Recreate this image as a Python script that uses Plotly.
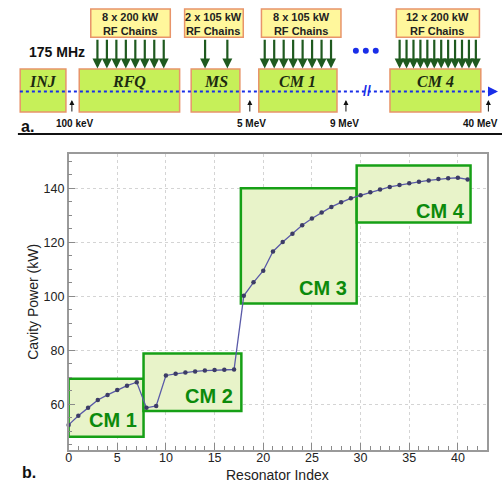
import numpy as np
import plotly.graph_objects as go

W, H = 502, 483

# ---------------- data ----------------
resonator_index = list(range(42))
cavity_power = [52.4, 55.8, 58.7, 61.6, 63.5, 65.3, 66.9, 68.2, 58.7, 59.4,
                70.7, 71.3, 71.8, 72.2, 72.5, 72.7, 72.8, 72.9, 100.2, 105.2,
                109.5, 116.6, 120.1, 123.2, 126.3, 128.8, 131.0, 133.1, 134.8, 136.3,
                137.4, 138.5, 139.6, 140.5, 141.2, 141.9, 142.4, 142.9, 143.4, 143.7,
                143.9, 143.3]

cm_names = ["CM 1", "CM 2", "CM 3", "CM 4"]
cm_x0 = [0.0, 7.7, 17.7, 29.6]
cm_x1 = [7.7, 17.75, 29.6, 41.3]
cm_y0 = [48.0, 57.5, 97.3, 127.3]
cm_y1 = [69.5, 78.8, 140.0, 148.4]
cm_label_x = [4.6, 14.4, 26.1, 38.2]
cm_label_y = [54.2, 63.2, 103.1, 131.7]

blocks = ["INJ", "RFQ", "MS", "CM 1", "CM 4"]
chain_counts = [0, 8, 2, 8, 12]
chain_labels = ["", "8 x 200 kW", "2 x 105 kW", "8 x 105 kW", "12 x 200 kW"]
energy_labels = ["100 keV", "5 MeV", "9 MeV", "40 MeV"]
frequency_label = "175 MHz"

# ---------------- layout positions (pixels) for the schematic ----------------
block_x0 = [17.3, 76.7, 189.3, 257.3, 389.3]
block_x1 = [63.3, 177.7, 238.3, 336.0, 480.7]
block_top, block_bot = 69.0, 112.0
chain_x0 = [None, 88.3, 182.7, 260.0, 395.7]
chain_x1 = [None, 168.3, 241.7, 340.0, 479.3]
arrow_first = [None, 95.0, 203.3, 263.3, 399.0]
arrow_last = [None, 161.7, 225.7, 330.0, 475.7]
chain_top, chain_bot = 9.0, 37.3
energy_arrow_x = [69.3, 248.3, 345.0, 488.3]
energy_label_x = [72.0, 249.5, 343.5, 480.0]
beam_y = 91.5


def X(p):
    return p / W


def Y(p):
    return 1 - p / H


shapes = []
annotations = []

BLOCK_FILL = "#c6f059"
BLOCK_LINE = "#e8946a"
CHAIN_FILL = "#fff79c"
ARROW_GREEN = "#1f5a1f"
BLUE = "#1a2ee8"

# blocks
for i, name in enumerate(blocks):
    shapes.append(dict(type="rect", xref="paper", yref="paper",
                       x0=X(block_x0[i]), x1=X(block_x1[i]),
                       y0=Y(block_bot), y1=Y(block_top),
                       fillcolor=BLOCK_FILL, line=dict(color=BLOCK_LINE, width=1.5)))
    annotations.append(dict(xref="paper", yref="paper",
                            x=X((block_x0[i] + block_x1[i]) / 2), y=Y(81.5),
                            text="<b><i>%s</i></b>" % name, showarrow=False,
                            font=dict(family="Liberation Serif, DejaVu Serif, serif",
                                      size=16, color="#1c2a10"),
                            xanchor="center", yanchor="middle"))
    if chain_counts[i] > 0:
        shapes.append(dict(type="rect", xref="paper", yref="paper",
                           x0=X(chain_x0[i]), x1=X(chain_x1[i]),
                           y0=Y(chain_bot), y1=Y(chain_top),
                           fillcolor=CHAIN_FILL, line=dict(color=BLOCK_LINE, width=1.5)))
        annotations.append(dict(xref="paper", yref="paper",
                                x=X((chain_x0[i] + chain_x1[i]) / 2), y=Y(24),
                                text="<b>" + chain_labels[i] + "<br>RF Chains</b>", showarrow=False,
                                font=dict(family="Arial, Liberation Sans", size=11, color="#222"),
                                xanchor="center", yanchor="middle"))
        for ax_px in np.linspace(arrow_first[i], arrow_last[i], chain_counts[i]):
            annotations.append(dict(xref="paper", yref="paper",
                                    x=X(ax_px), y=Y(block_top - 0.5),
                                    ax=0, ay=-(block_top - 0.5 - chain_bot - 1),
                                    text="", showarrow=True, arrowhead=2, arrowsize=0.9,
                                    arrowwidth=2.2, arrowcolor=ARROW_GREEN, standoff=0))

# beam line (dotted) drawn over blocks
shapes.append(dict(type="line", xref="paper", yref="paper",
                   x0=X(17.0), x1=X(492.0), y0=Y(beam_y), y1=Y(beam_y),
                   line=dict(color=BLUE, width=2.2, dash="dot")))
annotations.append(dict(xref="paper", yref="paper", x=X(498.0), y=Y(beam_y),
                        ax=-8, ay=0, text="", showarrow=True, arrowhead=2,
                        arrowsize=1.0, arrowwidth=2, arrowcolor=BLUE, standoff=0))
# break symbol
annotations.append(dict(xref="paper", yref="paper", x=X(366.0), y=Y(beam_y),
                        text="<b>//</b>", showarrow=False,
                        font=dict(family="Arial, Liberation Sans", size=14, color=BLUE),
                        xanchor="center", yanchor="middle"))
# three dots
for cx in [355.0, 365.0, 375.0]:
    shapes.append(dict(type="circle", xref="paper", yref="paper",
                       x0=X(cx - 3), x1=X(cx + 3), y0=Y(50.7 + 3), y1=Y(50.7 - 3),
                       fillcolor=BLUE, line=dict(width=0)))

# 175 MHz
annotations.append(dict(xref="paper", yref="paper", x=X(54.0), y=Y(51.7),
                        text="<b>%s</b>" % frequency_label, showarrow=False,
                        font=dict(family="Arial, Liberation Sans", size=14, color="#111"),
                        xanchor="center", yanchor="middle"))

# energy markers
for i, lab in enumerate(energy_labels):
    annotations.append(dict(xref="paper", yref="paper", x=X(energy_arrow_x[i]), y=Y(100.0),
                            ax=0, ay=13, text="", showarrow=True, arrowhead=2,
                            arrowsize=1.0, arrowwidth=1, arrowcolor="#111", standoff=0))
    annotations.append(dict(xref="paper", yref="paper", x=X(energy_label_x[i]), y=Y(123.5),
                            text="<b>%s</b>" % lab, showarrow=False,
                            font=dict(family="Arial, Liberation Sans", size=10, color="#111"),
                            xanchor="center", yanchor="middle"))

# panel labels and separator
annotations.append(dict(xref="paper", yref="paper", x=X(16.0), y=Y(127.0),
                        text="<b>a.</b>", showarrow=False,
                        font=dict(family="Arial, Liberation Sans", size=16, color="#111"),
                        xanchor="left", yanchor="middle"))
annotations.append(dict(xref="paper", yref="paper", x=X(17.0), y=Y(472.0),
                        text="<b>b.</b>", showarrow=False,
                        font=dict(family="Arial, Liberation Sans", size=16, color="#111"),
                        xanchor="left", yanchor="middle"))
shapes.append(dict(type="line", xref="paper", yref="paper",
                   x0=X(15.0), x1=X(502.0), y0=Y(134.0), y1=Y(134.0),
                   line=dict(color="#111", width=2)))

# ---------------- chart b ----------------
for i, name in enumerate(cm_names):
    shapes.append(dict(type="rect", xref="x", yref="y",
                       x0=cm_x0[i], x1=cm_x1[i], y0=cm_y0[i], y1=cm_y1[i],
                       fillcolor="#e8f3c9", line=dict(color="#16a016", width=2.5),
                       layer="between"))
    annotations.append(dict(xref="x", yref="y", x=cm_label_x[i], y=cm_label_y[i],
                            text="<b>%s</b>" % name, showarrow=False,
                            font=dict(family="Arial, Liberation Sans", size=20, color="#0c8a0c"),
                            xanchor="center", yanchor="middle"))

annotations.append(dict(xref="paper", yref="paper", x=X(30.0), y=Y(302.0),
                        text="Cavity Power (kW)", showarrow=False, textangle=-90,
                        font=dict(family="Arial, Liberation Sans", size=14, color="#222"),
                        xanchor="center", yanchor="middle"))
annotations.append(dict(xref="paper", yref="paper", x=X(276.5), y=Y(475.0),
                        text="Resonator Index", showarrow=False,
                        font=dict(family="Arial, Liberation Sans", size=14, color="#222"),
                        xanchor="center", yanchor="middle"))

fig = go.Figure()
fig.add_trace(go.Scatter(x=resonator_index, y=cavity_power, mode="lines+markers",
                         line=dict(color="#5a5aa8", width=1.3),
                         marker=dict(color="#3c3c66", size=4.5),
                         showlegend=False, cliponaxis=False))

axis_common = dict(showline=True, linecolor="#9a9a9a", linewidth=1.5, mirror=True,
                   gridcolor="#d4d4d4", griddash="dot", gridwidth=1,
                   ticks="inside", ticklen=7, tickcolor="#8a8a8a", zeroline=False,
                   tickfont=dict(family="Arial, Liberation Sans", size=12.5, color="#222"))

fig.update_layout(
    width=W, height=H,
    margin=dict(l=0, r=0, t=0, b=0),
    paper_bgcolor="white", plot_bgcolor="white",
    xaxis=dict(domain=[X(66), X(487)], range=[0, 43], dtick=5, tick0=0,
               ticklabelstandoff=-5,
               minor=dict(ticks="inside", dtick=1, ticklen=4, tickcolor="#8a8a8a", showgrid=False),
               **axis_common),
    yaxis=dict(domain=[Y(450), Y(154)], range=[43.1, 152.7], dtick=20, tick0=0,
               minor=dict(ticks="inside", dtick=5, ticklen=4, tickcolor="#8a8a8a", showgrid=False),
               **axis_common),
    shapes=shapes,
    annotations=annotations,
)

fig.write_html("out.html")
